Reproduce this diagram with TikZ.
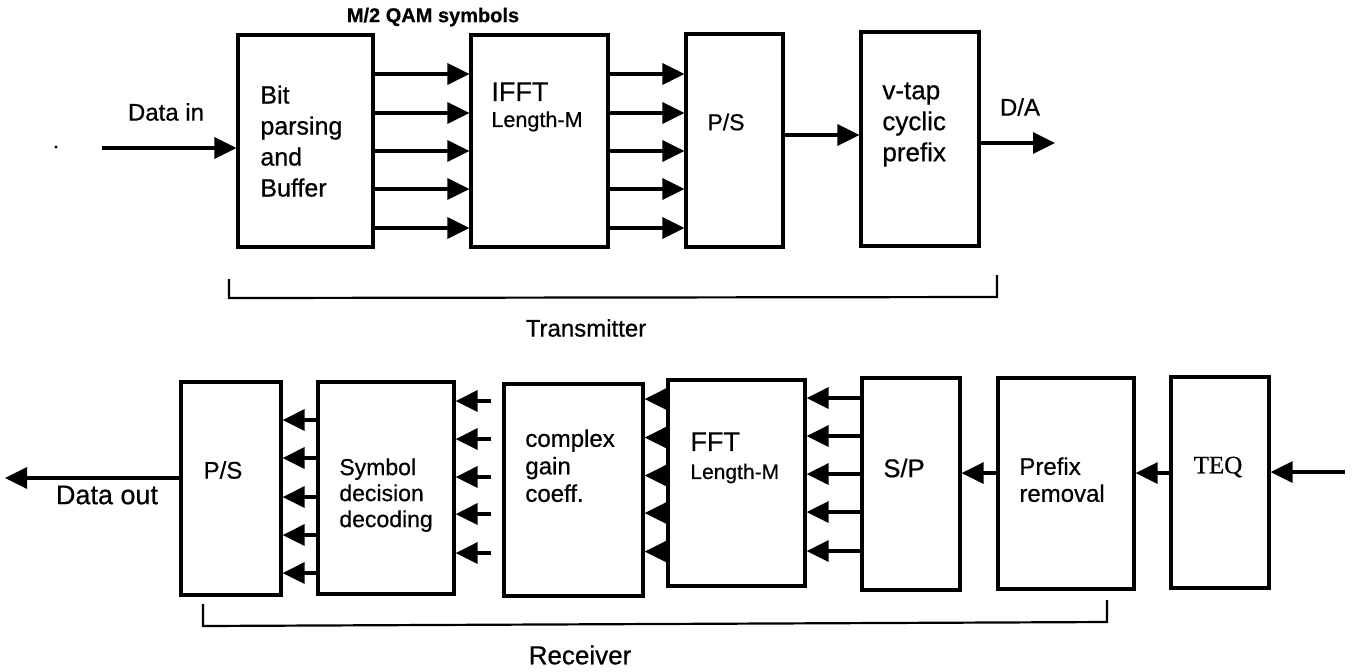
\documentclass[tikz,border=0pt]{standalone}
\usepackage{fontspec}
\setmainfont[FakeBold=0.6]{Liberation Sans}
\newfontfamily\teqfont[FakeBold=0.6]{Liberation Serif}
\usetikzlibrary{arrows.meta}
\begin{document}
\begin{tikzpicture}[x=0.5pt,y=-0.5pt,
  blk/.style={draw, line width=1.6pt, inner sep=0pt},
  lbl/.style={inner sep=0pt, align=left},
  arr/.style={line width=1.6pt, -{Triangle[length=11pt,width=10.5pt]}},
  brk/.style={line width=1.1pt}]
\useasboundingbox (0,0) rectangle (1354,671);

% ---------- Transmitter boxes ----------
\node[blk, minimum width=67.5pt, minimum height=106pt] (bp)   at (305.5,141) {};
\node[blk, minimum width=68.5pt, minimum height=106pt] (ifft) at (539.5,141) {};
\node[blk, minimum width=48.5pt, minimum height=106.5pt] (ps1) at (734.5,140.5) {};
\node[blk, minimum width=59pt,   minimum height=107pt] (cp)   at (920,139) {};

% texts
\node[lbl, anchor=north west, font=\fontsize{12.5}{15.5}\selectfont] (bpt) at (260,85) {Bit\\parsing\\and\\Buffer};
\node[lbl, anchor=north west, font=\fontsize{10.8}{13}\selectfont] (ifftt) at (491,82) {{\fontsize{13.5}{13}\selectfont IFFT}\\Length-M};
\node[lbl, font=\fontsize{11.5}{14}\selectfont] (ps1t) at (726,122) {P/S};
\node[lbl, anchor=north west, font=\fontsize{13}{15.5}\selectfont] (cpt) at (882,82) {v-tap\\cyclic\\prefix};
\node[lbl, font=\fontsize{12}{14}\selectfont] (din) at (166,112) {Data in};
\node[lbl, font=\fontsize{12}{14}\selectfont] (da) at (1020,107) {D/A};
\node[lbl, font=\bfseries\fontsize{10}{12}\selectfont] (qam) at (433,17) {M/2 QAM symbols};
\node[lbl, font=\fontsize{12}{14}\selectfont] (tx) at (586,328) {Transmitter};

% stray dot
\fill (56,147) circle (1.6);

% connectors
\coordinate (inA) at (102,148);
\draw[arr] (inA) -- (inA -| bp.west);
\foreach \y in {74,113,151,189,228}{
  \coordinate (t) at (0,\y);
  \draw[arr] (bp.east |- t) -- (ifft.west |- t);
  \draw[arr] (ifft.east |- t) -- (ps1.west |- t);
}
\coordinate (t1) at (0,135);
\draw[arr] (ps1.east |- t1) -- (cp.west |- t1);
\coordinate (outA) at (1055,143);
\draw[arr] (cp.east |- outA) -- (outA);

% transmitter bracket
\coordinate (tbl) at (229,279);
\coordinate (tbr) at (997,275);
\draw[brk] (tbl) -- (229,298) -- (997,297) -- (tbr);

% ---------- Receiver boxes ----------
\node[blk, minimum width=50pt,   minimum height=106.5pt] (ps2) at (231,488.5) {};
\node[blk, minimum width=68pt,   minimum height=106pt]   (sd)  at (386,488) {};
\node[blk, minimum width=69.5pt, minimum height=106pt]   (cg)  at (573.5,490) {};
\node[blk, minimum width=68.5pt, minimum height=103pt]   (fft) at (736.5,483) {};
\node[blk, minimum width=49pt,   minimum height=106pt]   (sp)  at (911,484) {};
\node[blk, minimum width=68pt,   minimum height=105.5pt] (pr)  at (1066,483.5) {};
\node[blk, minimum width=49pt,   minimum height=105.5pt] (teq) at (1220,482.5) {};

\node[lbl, font=\fontsize{12}{14}\selectfont] (ps2t) at (223,470) {P/S};
\node[lbl, anchor=north west, font=\fontsize{11.5}{13}\selectfont] (sdt) at (339,458) {Symbol\\decision\\decoding};
\node[lbl, anchor=north west, font=\fontsize{12}{13.75}\selectfont] (cgt) at (525,429) {complex\\gain\\coeff.};
\node[lbl, anchor=north west, font=\fontsize{10.5}{14}\selectfont] (fftt) at (690,432) {{\fontsize{13.5}{14}\selectfont FFT}\\Length-M};
\node[lbl, font=\fontsize{12.8}{14}\selectfont] (spt) at (904,468) {S/P};
\node[lbl, anchor=north west, font=\fontsize{12}{13.5}\selectfont] (prt) at (1019,457) {Prefix\\removal};
\node[lbl, font=\teqfont\fontsize{12.5}{14}\selectfont] (teqt) at (1218,467) {TEQ};
\node[lbl, font=\fontsize{13.5}{15}\selectfont] (dout) at (107,495) {Data out};
\node[lbl, font=\fontsize{13}{15}\selectfont] (rx) at (580,655) {Receiver};

% connectors
\coordinate (inB) at (1345,472);
\draw[arr] (inB) -- (inB -| teq.east);
\coordinate (r1) at (0,473);
\draw[arr] (teq.west |- r1) -- (pr.east |- r1);
\draw[arr] (pr.west |- r1) -- (sp.east |- r1);
\foreach \y in {398,436,474,512,551}{
  \coordinate (t) at (0,\y);
  \draw[arr] (sp.west |- t) -- (fft.east |- t);
}
\foreach \y in {399,437.5,475.5,513,551.5}{
  \coordinate (t) at (0,\y);
  \draw[arr] (fft.west |- t) -- (cg.east |- t);
}
\foreach \y in {401,439,477,514,553}{
  \coordinate (t) at (0,\y);
  \draw[arr] ([xshift=-5.5pt]cg.west |- t) -- (sd.east |- t);
}
\foreach \y in {420,458,497,535,573}{
  \coordinate (t) at (0,\y);
  \draw[arr] (sd.west |- t) -- (ps2.east |- t);
}
\coordinate (outB) at (5,478);
\draw[arr] (ps2.west |- outB) -- (outB);

% receiver bracket
\coordinate (rbl) at (203,604);
\coordinate (rbr) at (1107,600);
\draw[brk] (rbl) -- (203,626) -- (1107,622) -- (rbr);
\end{tikzpicture}
\end{document}
